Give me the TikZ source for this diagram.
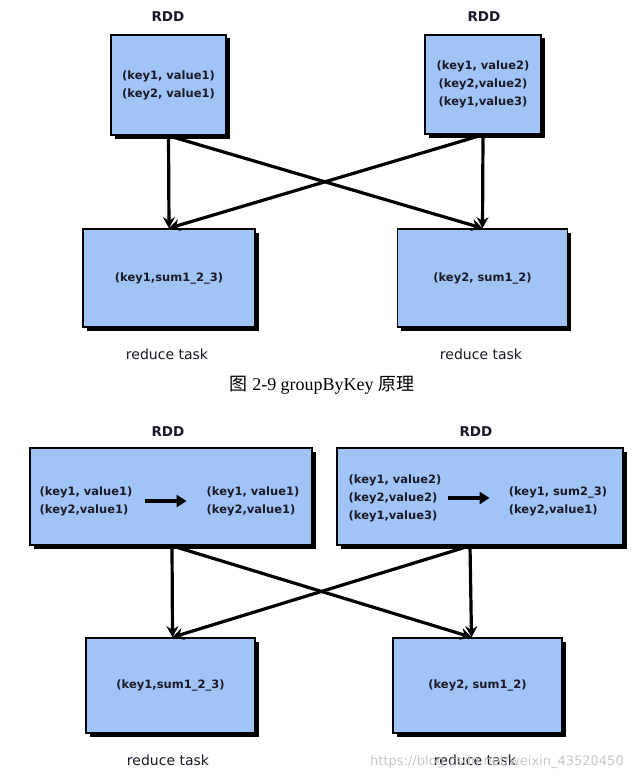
\documentclass[tikz,border=0pt]{standalone}
\usepackage{fontspec}
\setmainfont{DejaVu Sans}
\newfontfamily\capserif{Liberation Serif}
\newfontfamily\capcjk{Noto Sans CJK SC}
\usetikzlibrary{shadows,arrows.meta}
\definecolor{boxblue}{RGB}{160,196,245}
\definecolor{txt}{RGB}{25,25,40}
\tikzset{
  x=1pt,y=-1pt,
  rddbox/.style={draw=black, line width=1.6pt, fill=boxblue,
    general shadow={fill=black, shadow xshift=3.5pt, shadow yshift=-3.5pt},
    align=center, text=txt, inner sep=0pt,
    font=\fontsize{11.5}{18}\selectfont\bfseries},
  lbl/.style={text=txt, font=\fontsize{13.5}{16}\selectfont\bfseries},
  kv/.style={text=txt, align=left, inner sep=0pt, font=\fontsize{11.5}{18}\selectfont\bfseries},
  flow/.style={line width=3.2pt, -{Stealth[length=11pt,width=12pt]}},
  inner/.style={line width=3.6pt, -{Triangle[length=10pt,width=12pt]}},
}
\begin{document}
\begin{tikzpicture}
\useasboundingbox (0,0) rectangle (642,781);
% ---------- top diagram ----------
\node[lbl] (rdd1) at (168,17) {RDD};
\node[lbl] (rdd2) at (484,17) {RDD};
\node[rddbox, minimum width=115pt, minimum height=100pt] (tl) at (168.5,85) {(key1, value1)\\(key2, value1)};
\node[rddbox, minimum width=116pt, minimum height=99pt] (tr) at (483,84.5) {(key1, value2)\\(key2,value2)\\(key1,value3)};
\node[rddbox, minimum width=172pt, minimum height=98pt] (bl) at (169,278) {(key1,sum1\_2\_3)};
\node[rddbox, minimum width=170pt, minimum height=98pt] (br) at (482.5,278) {(key2, sum1\_2)};
\node[lbl, font=\fontsize{14}{16}\selectfont] (rt1) at (167,354) {reduce task};
\node[lbl, font=\fontsize{14}{16}\selectfont] (rt2) at (481,354) {reduce task};
\draw[flow] (tl.south) -- (bl.north);
\draw[flow] (tl.south) -- (br.north);
\draw[flow] (tr.south) -- (br.north);
\draw[flow] (tr.south) -- (bl.north);
\node[text=black, font=\fontsize{18}{20}\selectfont] (cap) at (322,385) {\capcjk 图\capserif{} 2-9 groupByKey \capcjk 原理};
% ---------- bottom diagram ----------
\node[lbl] (rdd3) at (168,432) {RDD};
\node[lbl] (rdd4) at (476,432) {RDD};
\node[rddbox, minimum width=282pt, minimum height=97pt] (L) at (171,496.5) {};
\node[rddbox, minimum width=286pt, minimum height=97pt] (R) at (480,496.5) {};
\node[kv] (la) at (86,501) {(key1, value1)\\(key2,value1)};
\node[kv] (lb) at (253,501) {(key1, value1)\\(key2,value1)};
\draw[inner] (la.east) ++(12,0) coordinate (la1) -- ++(42,0) coordinate (la2);
\node[kv] (ra) at (395,498) {(key1, value2)\\(key2,value2)\\(key1,value3)};
\node[kv] (rb) at (558,501) {(key1, sum2\_3)\\(key2,value1)};
\draw[inner] (ra.east) ++(6,0) coordinate (ra1) -- ++(42,0) coordinate (ra2);
\node[rddbox, minimum width=169pt, minimum height=95pt] (BL) at (170.5,685.5) {(key1,sum1\_2\_3)};
\node[rddbox, minimum width=169pt, minimum height=95pt] (BR) at (477.5,685.5) {(key2, sum1\_2)};
\coordinate (Ls) at ([xshift=1pt]L.south);
\coordinate (Rs) at ([xshift=-10pt]R.south);
\coordinate (BLn) at ([xshift=2pt]BL.north);
\coordinate (BRn) at ([xshift=-6pt]BR.north);
\draw[flow] (Ls) -- (BLn);
\draw[flow] (Ls) -- (BRn);
\draw[flow] (Rs) -- (BRn);
\draw[flow] (Rs) -- (BLn);
\node[lbl, font=\fontsize{14}{16}\selectfont] (rt3) at (168,760) {reduce task};
\node[lbl, font=\fontsize{14}{16}\selectfont] (rt4) at (475,760) {reduce task};
\node[text=black!22, font=\fontsize{13}{15}\selectfont] (wm) at (497,762) {https://blog.csdn.net/weixin\_43520450};
\end{tikzpicture}
\end{document}
